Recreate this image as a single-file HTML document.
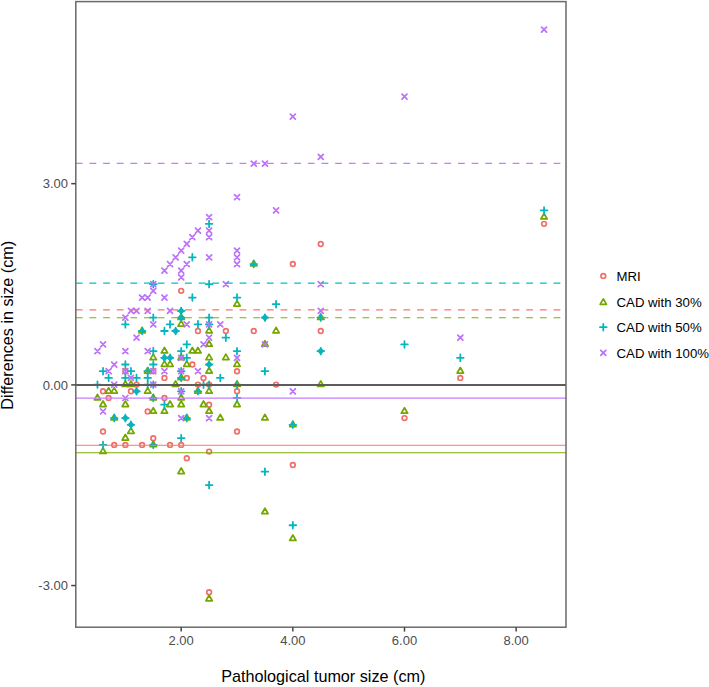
<!DOCTYPE html>
<html><head><meta charset="utf-8"><title>Bland-Altman plot</title>
<style>html,body{margin:0;padding:0;background:#fff;}body{width:709px;height:687px;overflow:hidden;}svg{display:block;}</style>
</head><body>
<svg width="709" height="687" viewBox="0 0 709 687">
<rect width="709" height="687" fill="#fff"/>
<defs><clipPath id="pc"><rect x="75.8" y="1.6" width="490.2" height="625.6"/></clipPath></defs>
<g clip-path="url(#pc)">
<circle cx="544.05" cy="223.85" r="2.35" fill="none" stroke="#F0706A" stroke-width="1.7"/>
<circle cx="460.32" cy="377.9" r="2.35" fill="none" stroke="#F0706A" stroke-width="1.7"/>
<circle cx="404.49" cy="418.09" r="2.35" fill="none" stroke="#F0706A" stroke-width="1.7"/>
<circle cx="320.75" cy="243.94" r="2.35" fill="none" stroke="#F0706A" stroke-width="1.7"/>
<circle cx="320.75" cy="331.02" r="2.35" fill="none" stroke="#F0706A" stroke-width="1.7"/>
<circle cx="292.84" cy="264.04" r="2.35" fill="none" stroke="#F0706A" stroke-width="1.7"/>
<circle cx="292.84" cy="464.98" r="2.35" fill="none" stroke="#F0706A" stroke-width="1.7"/>
<circle cx="276.09" cy="384.6" r="2.35" fill="none" stroke="#F0706A" stroke-width="1.7"/>
<circle cx="253.76" cy="331.02" r="2.35" fill="none" stroke="#F0706A" stroke-width="1.7"/>
<circle cx="237.02" cy="371.2" r="2.35" fill="none" stroke="#F0706A" stroke-width="1.7"/>
<circle cx="237.02" cy="391.3" r="2.35" fill="none" stroke="#F0706A" stroke-width="1.7"/>
<circle cx="237.02" cy="431.49" r="2.35" fill="none" stroke="#F0706A" stroke-width="1.7"/>
<circle cx="225.85" cy="331.02" r="2.35" fill="none" stroke="#F0706A" stroke-width="1.7"/>
<circle cx="209.1" cy="404.69" r="2.35" fill="none" stroke="#F0706A" stroke-width="1.7"/>
<circle cx="209.1" cy="451.58" r="2.35" fill="none" stroke="#F0706A" stroke-width="1.7"/>
<circle cx="209.1" cy="592.24" r="2.35" fill="none" stroke="#F0706A" stroke-width="1.7"/>
<circle cx="209.1" cy="384.6" r="2.35" fill="none" stroke="#F0706A" stroke-width="1.7"/>
<circle cx="203.52" cy="377.9" r="2.35" fill="none" stroke="#F0706A" stroke-width="1.7"/>
<circle cx="197.94" cy="331.02" r="2.35" fill="none" stroke="#F0706A" stroke-width="1.7"/>
<circle cx="197.94" cy="384.6" r="2.35" fill="none" stroke="#F0706A" stroke-width="1.7"/>
<circle cx="192.36" cy="364.51" r="2.35" fill="none" stroke="#F0706A" stroke-width="1.7"/>
<circle cx="186.77" cy="377.9" r="2.35" fill="none" stroke="#F0706A" stroke-width="1.7"/>
<circle cx="186.77" cy="458.28" r="2.35" fill="none" stroke="#F0706A" stroke-width="1.7"/>
<circle cx="181.19" cy="290.83" r="2.35" fill="none" stroke="#F0706A" stroke-width="1.7"/>
<circle cx="181.19" cy="444.88" r="2.35" fill="none" stroke="#F0706A" stroke-width="1.7"/>
<circle cx="170.03" cy="444.88" r="2.35" fill="none" stroke="#F0706A" stroke-width="1.7"/>
<circle cx="164.44" cy="377.9" r="2.35" fill="none" stroke="#F0706A" stroke-width="1.7"/>
<circle cx="164.44" cy="398" r="2.35" fill="none" stroke="#F0706A" stroke-width="1.7"/>
<circle cx="153.28" cy="371.2" r="2.35" fill="none" stroke="#F0706A" stroke-width="1.7"/>
<circle cx="153.28" cy="438.18" r="2.35" fill="none" stroke="#F0706A" stroke-width="1.7"/>
<circle cx="147.69" cy="411.39" r="2.35" fill="none" stroke="#F0706A" stroke-width="1.7"/>
<circle cx="142.11" cy="444.88" r="2.35" fill="none" stroke="#F0706A" stroke-width="1.7"/>
<circle cx="136.53" cy="384.6" r="2.35" fill="none" stroke="#F0706A" stroke-width="1.7"/>
<circle cx="130.95" cy="391.3" r="2.35" fill="none" stroke="#F0706A" stroke-width="1.7"/>
<circle cx="125.37" cy="371.2" r="2.35" fill="none" stroke="#F0706A" stroke-width="1.7"/>
<circle cx="125.37" cy="444.88" r="2.35" fill="none" stroke="#F0706A" stroke-width="1.7"/>
<circle cx="114.2" cy="444.88" r="2.35" fill="none" stroke="#F0706A" stroke-width="1.7"/>
<circle cx="108.62" cy="398" r="2.35" fill="none" stroke="#F0706A" stroke-width="1.7"/>
<circle cx="103.03" cy="391.3" r="2.35" fill="none" stroke="#F0706A" stroke-width="1.7"/>
<circle cx="103.03" cy="431.49" r="2.35" fill="none" stroke="#F0706A" stroke-width="1.7"/>
<polygon points="544.05,213.5 547.22,218.98 540.89,218.98" fill="none" stroke="#76A600" stroke-width="1.75" stroke-linejoin="round"/>
<polygon points="460.32,367.55 463.48,373.03 457.15,373.03" fill="none" stroke="#76A600" stroke-width="1.75" stroke-linejoin="round"/>
<polygon points="404.49,407.74 407.66,413.22 401.32,413.22" fill="none" stroke="#76A600" stroke-width="1.75" stroke-linejoin="round"/>
<polygon points="320.75,313.97 323.92,319.45 317.59,319.45" fill="none" stroke="#76A600" stroke-width="1.75" stroke-linejoin="round"/>
<polygon points="320.75,380.95 323.92,386.43 317.59,386.43" fill="none" stroke="#76A600" stroke-width="1.75" stroke-linejoin="round"/>
<polygon points="292.84,421.13 296.01,426.62 289.67,426.62" fill="none" stroke="#76A600" stroke-width="1.75" stroke-linejoin="round"/>
<polygon points="292.84,535 296.01,540.48 289.67,540.48" fill="none" stroke="#76A600" stroke-width="1.75" stroke-linejoin="round"/>
<polygon points="276.09,327.36 279.26,332.84 272.93,332.84" fill="none" stroke="#76A600" stroke-width="1.75" stroke-linejoin="round"/>
<polygon points="264.93,340.76 268.09,346.24 261.76,346.24" fill="none" stroke="#76A600" stroke-width="1.75" stroke-linejoin="round"/>
<polygon points="264.93,414.44 268.09,419.92 261.76,419.92" fill="none" stroke="#76A600" stroke-width="1.75" stroke-linejoin="round"/>
<polygon points="264.93,508.21 268.09,513.69 261.76,513.69" fill="none" stroke="#76A600" stroke-width="1.75" stroke-linejoin="round"/>
<polygon points="253.76,260.38 256.93,265.86 250.6,265.86" fill="none" stroke="#76A600" stroke-width="1.75" stroke-linejoin="round"/>
<polygon points="237.02,300.57 240.18,306.05 233.85,306.05" fill="none" stroke="#76A600" stroke-width="1.75" stroke-linejoin="round"/>
<polygon points="237.02,360.85 240.18,366.33 233.85,366.33" fill="none" stroke="#76A600" stroke-width="1.75" stroke-linejoin="round"/>
<polygon points="237.02,380.95 240.18,386.43 233.85,386.43" fill="none" stroke="#76A600" stroke-width="1.75" stroke-linejoin="round"/>
<polygon points="237.02,401.04 240.18,406.52 233.85,406.52" fill="none" stroke="#76A600" stroke-width="1.75" stroke-linejoin="round"/>
<polygon points="225.85,354.15 229.02,359.64 222.68,359.64" fill="none" stroke="#76A600" stroke-width="1.75" stroke-linejoin="round"/>
<polygon points="220.27,414.44 223.43,419.92 217.1,419.92" fill="none" stroke="#76A600" stroke-width="1.75" stroke-linejoin="round"/>
<polygon points="209.1,327.36 212.27,332.84 205.94,332.84" fill="none" stroke="#76A600" stroke-width="1.75" stroke-linejoin="round"/>
<polygon points="209.1,340.76 212.27,346.24 205.94,346.24" fill="none" stroke="#76A600" stroke-width="1.75" stroke-linejoin="round"/>
<polygon points="209.1,354.15 212.27,359.64 205.94,359.64" fill="none" stroke="#76A600" stroke-width="1.75" stroke-linejoin="round"/>
<polygon points="209.1,367.55 212.27,373.03 205.94,373.03" fill="none" stroke="#76A600" stroke-width="1.75" stroke-linejoin="round"/>
<polygon points="209.1,387.64 212.27,393.13 205.94,393.13" fill="none" stroke="#76A600" stroke-width="1.75" stroke-linejoin="round"/>
<polygon points="209.1,407.74 212.27,413.22 205.94,413.22" fill="none" stroke="#76A600" stroke-width="1.75" stroke-linejoin="round"/>
<polygon points="209.1,595.28 212.27,600.76 205.94,600.76" fill="none" stroke="#76A600" stroke-width="1.75" stroke-linejoin="round"/>
<polygon points="203.52,401.04 206.69,406.52 200.35,406.52" fill="none" stroke="#76A600" stroke-width="1.75" stroke-linejoin="round"/>
<polygon points="197.94,347.46 201.1,352.94 194.77,352.94" fill="none" stroke="#76A600" stroke-width="1.75" stroke-linejoin="round"/>
<polygon points="197.94,387.64 201.1,393.13 194.77,393.13" fill="none" stroke="#76A600" stroke-width="1.75" stroke-linejoin="round"/>
<polygon points="192.36,347.46 195.52,352.94 189.19,352.94" fill="none" stroke="#76A600" stroke-width="1.75" stroke-linejoin="round"/>
<polygon points="186.77,360.85 189.94,366.33 183.61,366.33" fill="none" stroke="#76A600" stroke-width="1.75" stroke-linejoin="round"/>
<polygon points="186.77,414.44 189.94,419.92 183.61,419.92" fill="none" stroke="#76A600" stroke-width="1.75" stroke-linejoin="round"/>
<polygon points="181.19,313.97 184.36,319.45 178.02,319.45" fill="none" stroke="#76A600" stroke-width="1.75" stroke-linejoin="round"/>
<polygon points="181.19,320.66 184.36,326.15 178.02,326.15" fill="none" stroke="#76A600" stroke-width="1.75" stroke-linejoin="round"/>
<polygon points="181.19,354.15 184.36,359.64 178.02,359.64" fill="none" stroke="#76A600" stroke-width="1.75" stroke-linejoin="round"/>
<polygon points="181.19,374.25 184.36,379.73 178.02,379.73" fill="none" stroke="#76A600" stroke-width="1.75" stroke-linejoin="round"/>
<polygon points="181.19,394.34 184.36,399.82 178.02,399.82" fill="none" stroke="#76A600" stroke-width="1.75" stroke-linejoin="round"/>
<polygon points="181.19,401.04 184.36,406.52 178.02,406.52" fill="none" stroke="#76A600" stroke-width="1.75" stroke-linejoin="round"/>
<polygon points="181.19,468.02 184.36,473.5 178.02,473.5" fill="none" stroke="#76A600" stroke-width="1.75" stroke-linejoin="round"/>
<polygon points="175.61,380.95 178.77,386.43 172.44,386.43" fill="none" stroke="#76A600" stroke-width="1.75" stroke-linejoin="round"/>
<polygon points="170.03,360.85 173.19,366.33 166.86,366.33" fill="none" stroke="#76A600" stroke-width="1.75" stroke-linejoin="round"/>
<polygon points="170.03,401.04 173.19,406.52 166.86,406.52" fill="none" stroke="#76A600" stroke-width="1.75" stroke-linejoin="round"/>
<polygon points="164.44,347.46 167.61,352.94 161.28,352.94" fill="none" stroke="#76A600" stroke-width="1.75" stroke-linejoin="round"/>
<polygon points="164.44,360.85 167.61,366.33 161.28,366.33" fill="none" stroke="#76A600" stroke-width="1.75" stroke-linejoin="round"/>
<polygon points="164.44,407.74 167.61,413.22 161.28,413.22" fill="none" stroke="#76A600" stroke-width="1.75" stroke-linejoin="round"/>
<polygon points="153.28,354.15 156.44,359.64 150.11,359.64" fill="none" stroke="#76A600" stroke-width="1.75" stroke-linejoin="round"/>
<polygon points="153.28,394.34 156.44,399.82 150.11,399.82" fill="none" stroke="#76A600" stroke-width="1.75" stroke-linejoin="round"/>
<polygon points="153.28,407.74 156.44,413.22 150.11,413.22" fill="none" stroke="#76A600" stroke-width="1.75" stroke-linejoin="round"/>
<polygon points="153.28,441.23 156.44,446.71 150.11,446.71" fill="none" stroke="#76A600" stroke-width="1.75" stroke-linejoin="round"/>
<polygon points="147.69,367.55 150.86,373.03 144.53,373.03" fill="none" stroke="#76A600" stroke-width="1.75" stroke-linejoin="round"/>
<polygon points="147.69,387.64 150.86,393.13 144.53,393.13" fill="none" stroke="#76A600" stroke-width="1.75" stroke-linejoin="round"/>
<polygon points="142.11,327.36 145.28,332.84 138.95,332.84" fill="none" stroke="#76A600" stroke-width="1.75" stroke-linejoin="round"/>
<polygon points="130.95,380.95 134.11,386.43 127.78,386.43" fill="none" stroke="#76A600" stroke-width="1.75" stroke-linejoin="round"/>
<polygon points="130.95,427.83 134.11,433.31 127.78,433.31" fill="none" stroke="#76A600" stroke-width="1.75" stroke-linejoin="round"/>
<polygon points="125.37,380.95 128.53,386.43 122.2,386.43" fill="none" stroke="#76A600" stroke-width="1.75" stroke-linejoin="round"/>
<polygon points="125.37,401.04 128.53,406.52 122.2,406.52" fill="none" stroke="#76A600" stroke-width="1.75" stroke-linejoin="round"/>
<polygon points="125.37,434.53 128.53,440.01 122.2,440.01" fill="none" stroke="#76A600" stroke-width="1.75" stroke-linejoin="round"/>
<polygon points="114.2,387.64 117.37,393.13 111.03,393.13" fill="none" stroke="#76A600" stroke-width="1.75" stroke-linejoin="round"/>
<polygon points="114.2,414.44 117.37,419.92 111.03,419.92" fill="none" stroke="#76A600" stroke-width="1.75" stroke-linejoin="round"/>
<polygon points="108.62,387.64 111.78,393.13 105.45,393.13" fill="none" stroke="#76A600" stroke-width="1.75" stroke-linejoin="round"/>
<polygon points="103.03,401.04 106.2,406.52 99.87,406.52" fill="none" stroke="#76A600" stroke-width="1.75" stroke-linejoin="round"/>
<polygon points="103.03,447.93 106.2,453.41 99.87,453.41" fill="none" stroke="#76A600" stroke-width="1.75" stroke-linejoin="round"/>
<polygon points="97.45,394.34 100.62,399.82 94.29,399.82" fill="none" stroke="#76A600" stroke-width="1.75" stroke-linejoin="round"/>
<polygon points="320.75,347.41 324.45,351.11 320.75,354.81 317.05,351.11" fill="#1DA8AC"/>
<polygon points="264.93,313.92 268.63,317.62 264.93,321.32 261.23,317.62" fill="#1DA8AC"/>
<polygon points="209.1,360.81 212.8,364.51 209.1,368.21 205.4,364.51" fill="#1DA8AC"/>
<polygon points="181.19,307.22 184.89,310.92 181.19,314.62 177.49,310.92" fill="#1DA8AC"/>
<polygon points="181.19,313.92 184.89,317.62 181.19,321.32 177.49,317.62" fill="#1DA8AC"/>
<polygon points="175.61,327.32 179.31,331.02 175.61,334.72 171.91,331.02" fill="#1DA8AC"/>
<polygon points="170.03,354.11 173.73,357.81 170.03,361.51 166.33,357.81" fill="#1DA8AC"/>
<polygon points="164.44,354.11 168.14,357.81 164.44,361.51 160.74,357.81" fill="#1DA8AC"/>
<polygon points="136.53,387.6 140.23,391.3 136.53,395 132.83,391.3" fill="#1DA8AC"/>
<polygon points="130.95,421.09 134.65,424.79 130.95,428.49 127.25,424.79" fill="#1DA8AC"/>
<polygon points="125.37,414.39 129.06,418.09 125.37,421.79 121.67,418.09" fill="#1DA8AC"/>
<path d="M540.73 210.45H547.38M544.05 207.13V213.77" stroke="#06B6BE" stroke-width="1.8" stroke-linecap="round" fill="none"/>
<path d="M456.99 357.81H463.64M460.32 354.49V361.13" stroke="#06B6BE" stroke-width="1.8" stroke-linecap="round" fill="none"/>
<path d="M401.17 344.41H407.81M404.49 341.09V347.73" stroke="#06B6BE" stroke-width="1.8" stroke-linecap="round" fill="none"/>
<path d="M317.43 317.62H324.08M320.75 314.3V320.94" stroke="#06B6BE" stroke-width="1.8" stroke-linecap="round" fill="none"/>
<path d="M317.43 351.11H324.08M320.75 347.79V354.43" stroke="#06B6BE" stroke-width="1.8" stroke-linecap="round" fill="none"/>
<path d="M289.52 424.79H296.16M292.84 421.47V428.11" stroke="#06B6BE" stroke-width="1.8" stroke-linecap="round" fill="none"/>
<path d="M289.52 525.26H296.16M292.84 521.94V528.58" stroke="#06B6BE" stroke-width="1.8" stroke-linecap="round" fill="none"/>
<path d="M272.77 304.22H279.42M276.09 300.9V307.55" stroke="#06B6BE" stroke-width="1.8" stroke-linecap="round" fill="none"/>
<path d="M261.6 317.62H268.25M264.93 314.3V320.94" stroke="#06B6BE" stroke-width="1.8" stroke-linecap="round" fill="none"/>
<path d="M261.6 371.2H268.25M264.93 367.88V374.53" stroke="#06B6BE" stroke-width="1.8" stroke-linecap="round" fill="none"/>
<path d="M261.6 471.67H268.25M264.93 468.35V475" stroke="#06B6BE" stroke-width="1.8" stroke-linecap="round" fill="none"/>
<path d="M250.44 264.04H257.09M253.76 260.71V267.36" stroke="#06B6BE" stroke-width="1.8" stroke-linecap="round" fill="none"/>
<path d="M233.69 297.53H240.34M237.02 294.2V300.85" stroke="#06B6BE" stroke-width="1.8" stroke-linecap="round" fill="none"/>
<path d="M233.69 351.11H240.34M237.02 347.79V354.43" stroke="#06B6BE" stroke-width="1.8" stroke-linecap="round" fill="none"/>
<path d="M233.69 384.6H240.34M237.02 381.28V387.92" stroke="#06B6BE" stroke-width="1.8" stroke-linecap="round" fill="none"/>
<path d="M233.69 398H240.34M237.02 394.67V401.32" stroke="#06B6BE" stroke-width="1.8" stroke-linecap="round" fill="none"/>
<path d="M222.53 337.71H229.17M225.85 334.39V341.04" stroke="#06B6BE" stroke-width="1.8" stroke-linecap="round" fill="none"/>
<path d="M216.94 377.9H223.59M220.27 374.58V381.22" stroke="#06B6BE" stroke-width="1.8" stroke-linecap="round" fill="none"/>
<path d="M205.78 223.85H212.43M209.1 220.53V227.17" stroke="#06B6BE" stroke-width="1.8" stroke-linecap="round" fill="none"/>
<path d="M205.78 284.13H212.43M209.1 280.81V287.45" stroke="#06B6BE" stroke-width="1.8" stroke-linecap="round" fill="none"/>
<path d="M205.78 317.62H212.43M209.1 314.3V320.94" stroke="#06B6BE" stroke-width="1.8" stroke-linecap="round" fill="none"/>
<path d="M205.78 324.32H212.43M209.1 321V327.64" stroke="#06B6BE" stroke-width="1.8" stroke-linecap="round" fill="none"/>
<path d="M205.78 364.51H212.43M209.1 361.18V367.83" stroke="#06B6BE" stroke-width="1.8" stroke-linecap="round" fill="none"/>
<path d="M205.78 384.6H212.43M209.1 381.28V387.92" stroke="#06B6BE" stroke-width="1.8" stroke-linecap="round" fill="none"/>
<path d="M205.78 485.07H212.43M209.1 481.75V488.39" stroke="#06B6BE" stroke-width="1.8" stroke-linecap="round" fill="none"/>
<path d="M200.2 384.6H206.84M203.52 381.28V387.92" stroke="#06B6BE" stroke-width="1.8" stroke-linecap="round" fill="none"/>
<path d="M194.61 324.32H201.26M197.94 321V327.64" stroke="#06B6BE" stroke-width="1.8" stroke-linecap="round" fill="none"/>
<path d="M194.61 391.3H201.26M197.94 387.98V394.62" stroke="#06B6BE" stroke-width="1.8" stroke-linecap="round" fill="none"/>
<path d="M189.03 257.34H195.68M192.36 254.02V260.66" stroke="#06B6BE" stroke-width="1.8" stroke-linecap="round" fill="none"/>
<path d="M189.03 297.53H195.68M192.36 294.2V300.85" stroke="#06B6BE" stroke-width="1.8" stroke-linecap="round" fill="none"/>
<path d="M183.45 344.41H190.1M186.77 341.09V347.73" stroke="#06B6BE" stroke-width="1.8" stroke-linecap="round" fill="none"/>
<path d="M183.45 357.81H190.1M186.77 354.49V361.13" stroke="#06B6BE" stroke-width="1.8" stroke-linecap="round" fill="none"/>
<path d="M183.45 418.09H190.1M186.77 414.77V421.41" stroke="#06B6BE" stroke-width="1.8" stroke-linecap="round" fill="none"/>
<path d="M177.87 310.92H184.51M181.19 307.6V314.24" stroke="#06B6BE" stroke-width="1.8" stroke-linecap="round" fill="none"/>
<path d="M177.87 317.62H184.51M181.19 314.3V320.94" stroke="#06B6BE" stroke-width="1.8" stroke-linecap="round" fill="none"/>
<path d="M177.87 351.11H184.51M181.19 347.79V354.43" stroke="#06B6BE" stroke-width="1.8" stroke-linecap="round" fill="none"/>
<path d="M177.87 371.2H184.51M181.19 367.88V374.53" stroke="#06B6BE" stroke-width="1.8" stroke-linecap="round" fill="none"/>
<path d="M177.87 377.9H184.51M181.19 374.58V381.22" stroke="#06B6BE" stroke-width="1.8" stroke-linecap="round" fill="none"/>
<path d="M177.87 391.3H184.51M181.19 387.98V394.62" stroke="#06B6BE" stroke-width="1.8" stroke-linecap="round" fill="none"/>
<path d="M177.87 438.18H184.51M181.19 434.86V441.51" stroke="#06B6BE" stroke-width="1.8" stroke-linecap="round" fill="none"/>
<path d="M172.28 331.02H178.93M175.61 327.69V334.34" stroke="#06B6BE" stroke-width="1.8" stroke-linecap="round" fill="none"/>
<path d="M166.7 324.32H173.35M170.03 321V327.64" stroke="#06B6BE" stroke-width="1.8" stroke-linecap="round" fill="none"/>
<path d="M166.7 357.81H173.35M170.03 354.49V361.13" stroke="#06B6BE" stroke-width="1.8" stroke-linecap="round" fill="none"/>
<path d="M161.12 331.02H167.77M164.44 327.69V334.34" stroke="#06B6BE" stroke-width="1.8" stroke-linecap="round" fill="none"/>
<path d="M161.12 357.81H167.77M164.44 354.49V361.13" stroke="#06B6BE" stroke-width="1.8" stroke-linecap="round" fill="none"/>
<path d="M161.12 404.69H167.77M164.44 401.37V408.02" stroke="#06B6BE" stroke-width="1.8" stroke-linecap="round" fill="none"/>
<path d="M149.95 284.13H156.6M153.28 280.81V287.45" stroke="#06B6BE" stroke-width="1.8" stroke-linecap="round" fill="none"/>
<path d="M149.95 317.62H156.6M153.28 314.3V320.94" stroke="#06B6BE" stroke-width="1.8" stroke-linecap="round" fill="none"/>
<path d="M149.95 351.11H156.6M153.28 347.79V354.43" stroke="#06B6BE" stroke-width="1.8" stroke-linecap="round" fill="none"/>
<path d="M149.95 364.51H156.6M153.28 361.18V367.83" stroke="#06B6BE" stroke-width="1.8" stroke-linecap="round" fill="none"/>
<path d="M149.95 384.6H156.6M153.28 381.28V387.92" stroke="#06B6BE" stroke-width="1.8" stroke-linecap="round" fill="none"/>
<path d="M149.95 398H156.6M153.28 394.67V401.32" stroke="#06B6BE" stroke-width="1.8" stroke-linecap="round" fill="none"/>
<path d="M149.95 444.88H156.6M153.28 441.56V448.2" stroke="#06B6BE" stroke-width="1.8" stroke-linecap="round" fill="none"/>
<path d="M144.37 371.2H151.02M147.69 367.88V374.53" stroke="#06B6BE" stroke-width="1.8" stroke-linecap="round" fill="none"/>
<path d="M144.37 377.9H151.02M147.69 374.58V381.22" stroke="#06B6BE" stroke-width="1.8" stroke-linecap="round" fill="none"/>
<path d="M144.37 384.6H151.02M147.69 381.28V387.92" stroke="#06B6BE" stroke-width="1.8" stroke-linecap="round" fill="none"/>
<path d="M138.79 331.02H145.44M142.11 327.69V334.34" stroke="#06B6BE" stroke-width="1.8" stroke-linecap="round" fill="none"/>
<path d="M133.21 377.9H139.85M136.53 374.58V381.22" stroke="#06B6BE" stroke-width="1.8" stroke-linecap="round" fill="none"/>
<path d="M133.21 391.3H139.85M136.53 387.98V394.62" stroke="#06B6BE" stroke-width="1.8" stroke-linecap="round" fill="none"/>
<path d="M127.62 371.2H134.27M130.95 367.88V374.53" stroke="#06B6BE" stroke-width="1.8" stroke-linecap="round" fill="none"/>
<path d="M127.62 424.79H134.27M130.95 421.47V428.11" stroke="#06B6BE" stroke-width="1.8" stroke-linecap="round" fill="none"/>
<path d="M122.04 324.32H128.69M125.37 321V327.64" stroke="#06B6BE" stroke-width="1.8" stroke-linecap="round" fill="none"/>
<path d="M122.04 364.51H128.69M125.37 361.18V367.83" stroke="#06B6BE" stroke-width="1.8" stroke-linecap="round" fill="none"/>
<path d="M122.04 377.9H128.69M125.37 374.58V381.22" stroke="#06B6BE" stroke-width="1.8" stroke-linecap="round" fill="none"/>
<path d="M122.04 418.09H128.69M125.37 414.77V421.41" stroke="#06B6BE" stroke-width="1.8" stroke-linecap="round" fill="none"/>
<path d="M110.88 418.09H117.52M114.2 414.77V421.41" stroke="#06B6BE" stroke-width="1.8" stroke-linecap="round" fill="none"/>
<path d="M105.29 377.9H111.94M108.62 374.58V381.22" stroke="#06B6BE" stroke-width="1.8" stroke-linecap="round" fill="none"/>
<path d="M99.71 371.2H106.36M103.03 367.88V374.53" stroke="#06B6BE" stroke-width="1.8" stroke-linecap="round" fill="none"/>
<path d="M99.71 444.88H106.36M103.03 441.56V448.2" stroke="#06B6BE" stroke-width="1.8" stroke-linecap="round" fill="none"/>
<path d="M94.13 384.6H100.78M97.45 381.28V387.92" stroke="#06B6BE" stroke-width="1.8" stroke-linecap="round" fill="none"/>
<path d="M541.55 27.11L546.55 32.11M541.55 32.11L546.55 27.11" stroke="#BC72FA" stroke-width="1.75" stroke-linecap="round" fill="none"/>
<path d="M457.82 335.21L462.82 340.21M457.82 340.21L462.82 335.21" stroke="#BC72FA" stroke-width="1.75" stroke-linecap="round" fill="none"/>
<path d="M401.99 94.09L406.99 99.09M401.99 99.09L406.99 94.09" stroke="#BC72FA" stroke-width="1.75" stroke-linecap="round" fill="none"/>
<path d="M318.25 154.37L323.25 159.37M318.25 159.37L323.25 154.37" stroke="#BC72FA" stroke-width="1.75" stroke-linecap="round" fill="none"/>
<path d="M318.25 281.63L323.25 286.63M318.25 286.63L323.25 281.63" stroke="#BC72FA" stroke-width="1.75" stroke-linecap="round" fill="none"/>
<path d="M318.25 308.42L323.25 313.42M318.25 313.42L323.25 308.42" stroke="#BC72FA" stroke-width="1.75" stroke-linecap="round" fill="none"/>
<path d="M290.34 114.18L295.34 119.18M290.34 119.18L295.34 114.18" stroke="#BC72FA" stroke-width="1.75" stroke-linecap="round" fill="none"/>
<path d="M290.34 388.8L295.34 393.8M290.34 393.8L295.34 388.8" stroke="#BC72FA" stroke-width="1.75" stroke-linecap="round" fill="none"/>
<path d="M273.59 207.95L278.59 212.95M273.59 212.95L278.59 207.95" stroke="#BC72FA" stroke-width="1.75" stroke-linecap="round" fill="none"/>
<path d="M262.43 161.07L267.43 166.07M262.43 166.07L267.43 161.07" stroke="#BC72FA" stroke-width="1.75" stroke-linecap="round" fill="none"/>
<path d="M262.43 341.91L267.43 346.91M262.43 346.91L267.43 341.91" stroke="#BC72FA" stroke-width="1.75" stroke-linecap="round" fill="none"/>
<path d="M251.26 161.07L256.26 166.07M251.26 166.07L256.26 161.07" stroke="#BC72FA" stroke-width="1.75" stroke-linecap="round" fill="none"/>
<path d="M234.52 194.56L239.52 199.56M234.52 199.56L239.52 194.56" stroke="#BC72FA" stroke-width="1.75" stroke-linecap="round" fill="none"/>
<path d="M234.52 248.14L239.52 253.14M234.52 253.14L239.52 248.14" stroke="#BC72FA" stroke-width="1.75" stroke-linecap="round" fill="none"/>
<path d="M234.52 254.84L239.52 259.84M234.52 259.84L239.52 254.84" stroke="#BC72FA" stroke-width="1.75" stroke-linecap="round" fill="none"/>
<path d="M234.52 261.54L239.52 266.54M234.52 266.54L239.52 261.54" stroke="#BC72FA" stroke-width="1.75" stroke-linecap="round" fill="none"/>
<path d="M234.52 355.31L239.52 360.31M234.52 360.31L239.52 355.31" stroke="#BC72FA" stroke-width="1.75" stroke-linecap="round" fill="none"/>
<path d="M223.35 281.63L228.35 286.63M223.35 286.63L228.35 281.63" stroke="#BC72FA" stroke-width="1.75" stroke-linecap="round" fill="none"/>
<path d="M217.77 321.82L222.77 326.82M217.77 326.82L222.77 321.82" stroke="#BC72FA" stroke-width="1.75" stroke-linecap="round" fill="none"/>
<path d="M206.6 214.65L211.6 219.65M206.6 219.65L211.6 214.65" stroke="#BC72FA" stroke-width="1.75" stroke-linecap="round" fill="none"/>
<path d="M206.6 228.05L211.6 233.05M206.6 233.05L211.6 228.05" stroke="#BC72FA" stroke-width="1.75" stroke-linecap="round" fill="none"/>
<path d="M206.6 234.74L211.6 239.74M206.6 239.74L211.6 234.74" stroke="#BC72FA" stroke-width="1.75" stroke-linecap="round" fill="none"/>
<path d="M206.6 254.84L211.6 259.84M206.6 259.84L211.6 254.84" stroke="#BC72FA" stroke-width="1.75" stroke-linecap="round" fill="none"/>
<path d="M206.6 321.82L211.6 326.82M206.6 326.82L211.6 321.82" stroke="#BC72FA" stroke-width="1.75" stroke-linecap="round" fill="none"/>
<path d="M206.6 335.21L211.6 340.21M206.6 340.21L211.6 335.21" stroke="#BC72FA" stroke-width="1.75" stroke-linecap="round" fill="none"/>
<path d="M206.6 415.59L211.6 420.59M206.6 420.59L211.6 415.59" stroke="#BC72FA" stroke-width="1.75" stroke-linecap="round" fill="none"/>
<path d="M201.02 341.91L206.02 346.91M201.02 346.91L206.02 341.91" stroke="#BC72FA" stroke-width="1.75" stroke-linecap="round" fill="none"/>
<path d="M195.44 228.05L200.44 233.05M195.44 233.05L200.44 228.05" stroke="#BC72FA" stroke-width="1.75" stroke-linecap="round" fill="none"/>
<path d="M195.44 368.7L200.44 373.7M195.44 373.7L200.44 368.7" stroke="#BC72FA" stroke-width="1.75" stroke-linecap="round" fill="none"/>
<path d="M189.86 234.74L194.86 239.74M189.86 239.74L194.86 234.74" stroke="#BC72FA" stroke-width="1.75" stroke-linecap="round" fill="none"/>
<path d="M184.27 241.44L189.27 246.44M184.27 246.44L189.27 241.44" stroke="#BC72FA" stroke-width="1.75" stroke-linecap="round" fill="none"/>
<path d="M184.27 261.54L189.27 266.54M184.27 266.54L189.27 261.54" stroke="#BC72FA" stroke-width="1.75" stroke-linecap="round" fill="none"/>
<path d="M184.27 321.82L189.27 326.82M184.27 326.82L189.27 321.82" stroke="#BC72FA" stroke-width="1.75" stroke-linecap="round" fill="none"/>
<path d="M178.69 248.14L183.69 253.14M178.69 253.14L183.69 248.14" stroke="#BC72FA" stroke-width="1.75" stroke-linecap="round" fill="none"/>
<path d="M178.69 268.23L183.69 273.23M178.69 273.23L183.69 268.23" stroke="#BC72FA" stroke-width="1.75" stroke-linecap="round" fill="none"/>
<path d="M178.69 274.93L183.69 279.93M178.69 279.93L183.69 274.93" stroke="#BC72FA" stroke-width="1.75" stroke-linecap="round" fill="none"/>
<path d="M178.69 355.31L183.69 360.31M178.69 360.31L183.69 355.31" stroke="#BC72FA" stroke-width="1.75" stroke-linecap="round" fill="none"/>
<path d="M178.69 368.7L183.69 373.7M178.69 373.7L183.69 368.7" stroke="#BC72FA" stroke-width="1.75" stroke-linecap="round" fill="none"/>
<path d="M178.69 388.8L183.69 393.8M178.69 393.8L183.69 388.8" stroke="#BC72FA" stroke-width="1.75" stroke-linecap="round" fill="none"/>
<path d="M178.69 415.59L183.69 420.59M178.69 420.59L183.69 415.59" stroke="#BC72FA" stroke-width="1.75" stroke-linecap="round" fill="none"/>
<path d="M173.11 254.84L178.11 259.84M173.11 259.84L178.11 254.84" stroke="#BC72FA" stroke-width="1.75" stroke-linecap="round" fill="none"/>
<path d="M167.53 261.54L172.53 266.54M167.53 266.54L172.53 261.54" stroke="#BC72FA" stroke-width="1.75" stroke-linecap="round" fill="none"/>
<path d="M167.53 308.42L172.53 313.42M167.53 313.42L172.53 308.42" stroke="#BC72FA" stroke-width="1.75" stroke-linecap="round" fill="none"/>
<path d="M161.94 268.23L166.94 273.23M161.94 273.23L166.94 268.23" stroke="#BC72FA" stroke-width="1.75" stroke-linecap="round" fill="none"/>
<path d="M161.94 295.03L166.94 300.03M161.94 300.03L166.94 295.03" stroke="#BC72FA" stroke-width="1.75" stroke-linecap="round" fill="none"/>
<path d="M161.94 368.7L166.94 373.7M161.94 373.7L166.94 368.7" stroke="#BC72FA" stroke-width="1.75" stroke-linecap="round" fill="none"/>
<path d="M150.78 281.63L155.78 286.63M150.78 286.63L155.78 281.63" stroke="#BC72FA" stroke-width="1.75" stroke-linecap="round" fill="none"/>
<path d="M150.78 288.33L155.78 293.33M150.78 293.33L155.78 288.33" stroke="#BC72FA" stroke-width="1.75" stroke-linecap="round" fill="none"/>
<path d="M150.78 321.82L155.78 326.82M150.78 326.82L155.78 321.82" stroke="#BC72FA" stroke-width="1.75" stroke-linecap="round" fill="none"/>
<path d="M150.78 368.7L155.78 373.7M150.78 373.7L155.78 368.7" stroke="#BC72FA" stroke-width="1.75" stroke-linecap="round" fill="none"/>
<path d="M150.78 382.1L155.78 387.1M150.78 387.1L155.78 382.1" stroke="#BC72FA" stroke-width="1.75" stroke-linecap="round" fill="none"/>
<path d="M145.19 295.03L150.19 300.03M145.19 300.03L150.19 295.03" stroke="#BC72FA" stroke-width="1.75" stroke-linecap="round" fill="none"/>
<path d="M145.19 308.42L150.19 313.42M145.19 313.42L150.19 308.42" stroke="#BC72FA" stroke-width="1.75" stroke-linecap="round" fill="none"/>
<path d="M145.19 348.61L150.19 353.61M145.19 353.61L150.19 348.61" stroke="#BC72FA" stroke-width="1.75" stroke-linecap="round" fill="none"/>
<path d="M139.61 295.03L144.61 300.03M139.61 300.03L144.61 295.03" stroke="#BC72FA" stroke-width="1.75" stroke-linecap="round" fill="none"/>
<path d="M134.03 308.42L139.03 313.42M134.03 313.42L139.03 308.42" stroke="#BC72FA" stroke-width="1.75" stroke-linecap="round" fill="none"/>
<path d="M134.03 335.21L139.03 340.21M134.03 340.21L139.03 335.21" stroke="#BC72FA" stroke-width="1.75" stroke-linecap="round" fill="none"/>
<path d="M128.45 308.42L133.45 313.42M128.45 313.42L133.45 308.42" stroke="#BC72FA" stroke-width="1.75" stroke-linecap="round" fill="none"/>
<path d="M128.45 375.4L133.45 380.4M128.45 380.4L133.45 375.4" stroke="#BC72FA" stroke-width="1.75" stroke-linecap="round" fill="none"/>
<path d="M122.87 315.12L127.87 320.12M122.87 320.12L127.87 315.12" stroke="#BC72FA" stroke-width="1.75" stroke-linecap="round" fill="none"/>
<path d="M122.87 348.61L127.87 353.61M122.87 353.61L127.87 348.61" stroke="#BC72FA" stroke-width="1.75" stroke-linecap="round" fill="none"/>
<path d="M122.87 368.7L127.87 373.7M122.87 373.7L127.87 368.7" stroke="#BC72FA" stroke-width="1.75" stroke-linecap="round" fill="none"/>
<path d="M122.87 395.5L127.87 400.5M122.87 400.5L127.87 395.5" stroke="#BC72FA" stroke-width="1.75" stroke-linecap="round" fill="none"/>
<path d="M111.7 362.01L116.7 367.01M111.7 367.01L116.7 362.01" stroke="#BC72FA" stroke-width="1.75" stroke-linecap="round" fill="none"/>
<path d="M111.7 382.1L116.7 387.1M111.7 387.1L116.7 382.1" stroke="#BC72FA" stroke-width="1.75" stroke-linecap="round" fill="none"/>
<path d="M106.12 368.7L111.12 373.7M106.12 373.7L111.12 368.7" stroke="#BC72FA" stroke-width="1.75" stroke-linecap="round" fill="none"/>
<path d="M100.53 341.91L105.53 346.91M100.53 346.91L105.53 341.91" stroke="#BC72FA" stroke-width="1.75" stroke-linecap="round" fill="none"/>
<path d="M100.53 408.89L105.53 413.89M100.53 413.89L105.53 408.89" stroke="#BC72FA" stroke-width="1.75" stroke-linecap="round" fill="none"/>
<path d="M94.95 348.61L99.95 353.61M94.95 353.61L99.95 348.61" stroke="#BC72FA" stroke-width="1.75" stroke-linecap="round" fill="none"/>
<line x1="75.8" y1="163.4" x2="566" y2="163.4" stroke="#C77CFF" stroke-width="1.1" stroke-dasharray="6.8 6.85"/>
<line x1="75.8" y1="283.1" x2="566" y2="283.1" stroke="#00BFC4" stroke-width="1.1" stroke-dasharray="6.8 6.85"/>
<line x1="75.8" y1="309.9" x2="566" y2="309.9" stroke="#F8766D" stroke-width="1.1" stroke-dasharray="6.8 6.85"/>
<line x1="75.8" y1="317.7" x2="566" y2="317.7" stroke="#7CAE00" stroke-width="1.1" stroke-dasharray="6.8 6.85"/>
<line x1="75.8" y1="398.1" x2="566" y2="398.1" stroke="#C77CFF" stroke-width="1.1" />
<line x1="75.8" y1="445.3" x2="566" y2="445.3" stroke="#F8766D" stroke-width="1.1" />
<line x1="75.8" y1="452.7" x2="566" y2="452.7" stroke="#7CAE00" stroke-width="1.1" />
<line x1="75.8" y1="384.9" x2="566" y2="384.9" stroke="#5c5c5c" stroke-width="2.0"/>
</g>
<rect x="75.8" y="1.6" width="490.2" height="625.6" fill="none" stroke="#6a6a6a" stroke-width="1.5"/>
<line x1="71.2" y1="183.66" x2="75.8" y2="183.66" stroke="#444" stroke-width="1.5"/>
<line x1="71.2" y1="384.9" x2="75.8" y2="384.9" stroke="#444" stroke-width="1.5"/>
<line x1="71.2" y1="585.54" x2="75.8" y2="585.54" stroke="#444" stroke-width="1.5"/>
<line x1="181.19" y1="627.2" x2="181.19" y2="631.6" stroke="#444" stroke-width="1.5"/>
<line x1="292.84" y1="627.2" x2="292.84" y2="631.6" stroke="#444" stroke-width="1.5"/>
<line x1="404.49" y1="627.2" x2="404.49" y2="631.6" stroke="#444" stroke-width="1.5"/>
<line x1="516.14" y1="627.2" x2="516.14" y2="631.6" stroke="#444" stroke-width="1.5"/>
<g font-family="Liberation Sans, sans-serif" fill="#4d4d4d" font-size="13">
<text x="68.0" y="188.26" text-anchor="end">3.00</text>
<text x="68.0" y="389.5" text-anchor="end">0.00</text>
<text x="68.0" y="590.14" text-anchor="end">-3.00</text>
<text x="181.19" y="645.2" text-anchor="middle">2.00</text>
<text x="292.84" y="645.2" text-anchor="middle">4.00</text>
<text x="404.49" y="645.2" text-anchor="middle">6.00</text>
<text x="516.14" y="645.2" text-anchor="middle">8.00</text>
</g>
<text font-family="Liberation Sans, sans-serif" font-size="16.2" fill="#000" x="323.3" y="681.6" text-anchor="middle">Pathological tumor size (cm)</text>
<text font-family="Liberation Sans, sans-serif" font-size="16.2" fill="#000" transform="translate(12.9 325.25) rotate(-90)" text-anchor="middle">Differences in size (cm)</text>
<circle cx="603.3" cy="275.9" r="2.35" fill="none" stroke="#F0706A" stroke-width="1.7"/>
<polygon points="603.3,298.85 606.47,304.33 600.13,304.33" fill="none" stroke="#76A600" stroke-width="1.75" stroke-linejoin="round"/>
<path d="M599.98 327.2H606.62M603.3 323.88V330.52" stroke="#06B6BE" stroke-width="1.8" stroke-linecap="round" fill="none"/>
<path d="M600.8 350.3L605.8 355.3M600.8 355.3L605.8 350.3" stroke="#BC72FA" stroke-width="1.75" stroke-linecap="round" fill="none"/>
<g font-family="Liberation Sans, sans-serif" font-size="13.2" fill="#000">
<text x="616.6" y="280.8">MRI</text>
<text x="616.6" y="306.7">CAD with 30%</text>
<text x="616.6" y="332.3">CAD with 50%</text>
<text x="616.6" y="358">CAD with 100%</text>
</g>
</svg>
</body></html>
